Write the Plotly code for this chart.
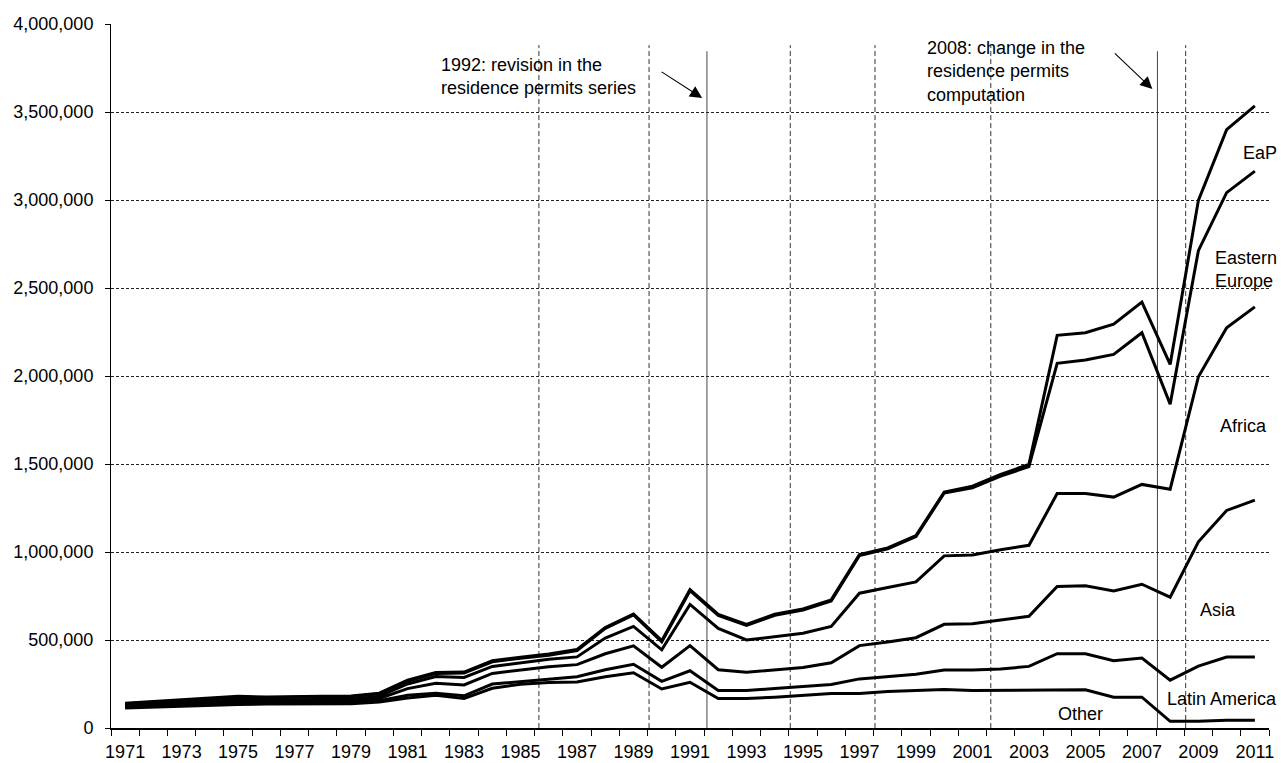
import plotly.graph_objects as go

# ---------------- data (thousands, cumulative lines) ----------------
years = list(range(1971, 2012))

other = [113, 119, 125, 129, 134, 136, 137, 137, 138, 148,
         170, 186, 168, 226, 248, 258, 261, 291, 314, 222, 260,
         167, 167, 175, 184, 196, 196, 207, 213, 219, 213, 213, 217, 217, 217, 175, 175, 38, 38, 44, 44]

latin_america = [118, 124, 130, 134, 139, 141, 142, 142, 143, 155,
                 186, 198, 183, 250, 265, 276, 291, 331, 362, 265, 325,
                 213, 213, 224, 234, 247, 279, 293, 306, 329, 329, 335, 350, 422, 422, 382, 397, 272, 352, 403, 403]

asia = [125, 132, 138, 143, 148, 150, 151, 151, 152, 168,
        224, 254, 245, 310, 330, 348, 360, 422, 467, 345, 468,
        331, 317, 329, 344, 371, 468, 489, 513, 589, 593, 614, 635, 804, 808, 778, 817, 743, 1058, 1236, 1295]

africa = [132, 140, 148, 153, 159, 160, 161, 162, 163, 180,
          250, 292, 287, 350, 372, 390, 404, 511, 577, 444, 702,
          566, 500, 519, 538, 577, 766, 798, 830, 978, 983, 1013, 1038, 1332, 1332, 1312, 1384, 1357, 1996, 2274, 2393]

eastern_europe = [138, 148, 158, 164, 175, 172, 176, 177, 178, 194,
                  266, 310, 312, 376, 396, 414, 440, 566, 643, 490, 780,
                  640, 583, 640, 670, 722, 980, 1018, 1088, 1335, 1365, 1431, 1485, 2072, 2091, 2123, 2246, 1840, 2712, 3042, 3164]

eap = [140, 150, 161, 167, 180, 176, 180, 181, 182, 198,
       272, 316, 318, 382, 402, 420, 446, 571, 648, 496, 786,
       646, 589, 646, 677, 728, 985, 1023, 1093, 1340, 1374, 1441, 1498, 2231, 2246, 2294, 2420, 2066, 2998, 3400, 3535]

series = [("Other", other), ("Latin America", latin_america), ("Asia", asia),
          ("Africa", africa), ("Eastern Europe", eastern_europe), ("EaP", eap)]

tick_years = list(range(1971, 2012, 2))
tick_labels = [str(y) for y in tick_years]

amnesty_years = [1985.65, 1989.55, 1994.55, 1997.55, 2001.65, 2008.55]
break_years = [1991.6, 2007.55]

FONT = "Liberation Sans, Arial, sans-serif"

fig = go.Figure()
for name, vals in series:
    fig.add_trace(go.Scatter(
        x=years, y=[v * 1000 for v in vals], mode="lines", name=name,
        line=dict(color="black", width=3), showlegend=False, hoverinfo="skip"))

shapes = []
for xv in amnesty_years:
    shapes.append(dict(type="line", xref="x", yref="y", x0=xv, x1=xv, y0=0, y1=3.88e6,
                       line=dict(color="#333333", width=1, dash="5px,3px"), layer="below"))
for xv in break_years:
    shapes.append(dict(type="line", xref="x", yref="y", x0=xv, x1=xv, y0=0, y1=3.845e6,
                       line=dict(color="#444444", width=1), layer="below"))

annotations = []
# event notes
annotations.append(dict(x=1982.12, y=3.704e6, xref="x", yref="y", xanchor="left", yanchor="middle",
                        align="left", showarrow=False,
                        text="1992: revision in the<br>residence permits series"))
annotations.append(dict(x=1999.33, y=3.731e6, xref="x", yref="y", xanchor="left", yanchor="middle",
                        align="left", showarrow=False,
                        text="2008: change in the<br>residence permits<br>computation"))
# arrows
annotations.append(dict(x=1991.43, y=3.58e6, xref="x", yref="y", text="", showarrow=True,
                        ax=-42, ay=-27, arrowhead=2, arrowsize=2.2, arrowwidth=1.1, arrowcolor="black"))
annotations.append(dict(x=2007.37, y=3.631e6, xref="x", yref="y", text="", showarrow=True,
                        ax=-39, ay=-37, arrowhead=2, arrowsize=2.2, arrowwidth=1.1, arrowcolor="black"))
# series labels
labels = [
    ("EaP", 2011.19, 3.267e6, "center"),
    ("Eastern<br>Europe", 2009.53, 2.603e6, "left"),
    ("Africa", 2010.61, 1.718e6, "center"),
    ("Asia", 2009.68, 0.6695e6, "center"),
    ("Latin America", 2009.84, 0.167e6, "center"),
    ("Other", 2004.83, 0.082e6, "center"),
]
for txt, xv, yv, anchor in labels:
    annotations.append(dict(x=xv, y=yv, xref="x", yref="y", text=txt, showarrow=False,
                            xanchor=anchor, yanchor="middle", align="left"))

fig.update_layout(
    width=1281, height=763,
    margin=dict(l=111, r=12, t=24, b=35, autoexpand=False),
    paper_bgcolor="white", plot_bgcolor="white",
    font=dict(family=FONT, size=18, color="black"),
    shapes=shapes, annotations=annotations,
    showlegend=False,
)
fig.update_xaxes(
    range=[1970.5, 2011.5], tickmode="array", tickvals=tick_years, ticktext=tick_labels,
    ticks="", showgrid=False, zeroline=False, automargin=False,
    showline=True, linecolor="black", linewidth=2,
    tickfont=dict(family=FONT, size=18, color="black"),
    ticklabelstandoff=6,
    minor=dict(tick0=1970.5, dtick=1, ticks="outside", ticklen=6, tickwidth=1,
               tickcolor="black", showgrid=False),
)
fig.update_yaxes(
    range=[0, 4e6], dtick=500000, tick0=0, tickformat=",",
    showgrid=True, gridcolor="#222222", gridwidth=1, griddash="3px,2px",
    zeroline=False, showline=True, linecolor="black", linewidth=1, automargin=False,
    ticks="outside", ticklen=5, tickcolor="black", tickwidth=1,
    tickfont=dict(family=FONT, size=18, color="black"),
    ticklabelstandoff=8,
)

fig.write_html("out.html", config={"displayModeBar": False},
               post_script="document.body.style.margin='0';")
